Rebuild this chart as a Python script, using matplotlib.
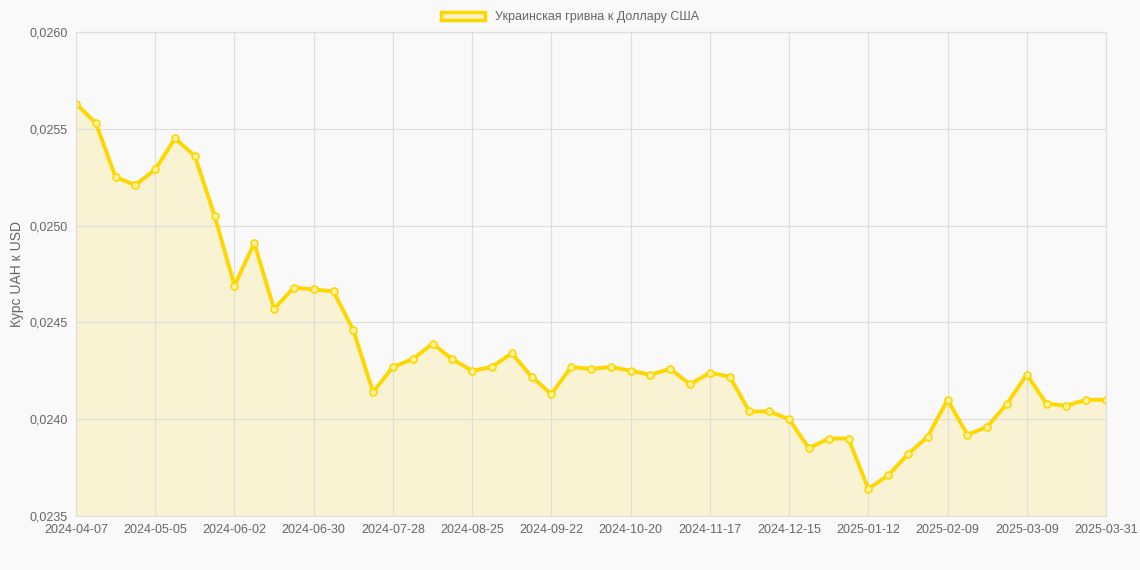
import matplotlib
matplotlib.use("Agg")
import matplotlib.pyplot as plt
import pandas as pd
from matplotlib.patches import Patch

dates = [d.strftime("%Y-%m-%d") for d in pd.date_range("2024-04-07", periods=52, freq="7D")] + ["2025-03-31"]
values = [0.02563,0.02553,0.02525,0.02521,0.02529,0.02545,0.02536,0.02505,0.02469,0.02491,
          0.02457,0.02468,0.02467,0.02466,0.02446,0.02414,0.02427,0.02431,0.02439,0.02431,
          0.02425,0.02427,0.02434,0.02422,0.02413,0.02427,0.02426,0.02427,0.02425,0.02423,
          0.02426,0.02418,0.02424,0.02422,0.02404,0.02404,0.02400,0.02385,0.02390,0.02390,
          0.02364,0.02371,0.02382,0.02391,0.02410,0.02392,0.02396,0.02408,0.02423,0.02408,
          0.02407,0.02410,0.02410]
series_label = "Украинская гривна к Доллару США"
y_label = "Курс UAH к USD"

plt.rcParams['font.family'] = ['Liberation Sans', 'DejaVu Sans']
fig = plt.figure(figsize=(11.4, 5.7), dpi=100, facecolor="#f9f9f9")
ax = fig.add_axes([76/1140, 1-516/570, 1030/1140, 484/570], facecolor="#f9f9f9")
x = list(range(len(values)))
line = "#FFD700"
ax.fill_between(x, values, 0.0235, color="#FFD700", alpha=0.15, lw=0)
ax.plot(x, values, color=line, lw=2.8, marker="o", ms=5, mfc="#fff3a0", mec=line, mew=1.2)
ax.set_xlim(0, len(values)-1)
ax.set_ylim(0.0235, 0.0260)
yt = [0.0235, 0.0240, 0.0245, 0.0250, 0.0255, 0.0260]
ax.set_yticks(yt)
ax.set_yticklabels([f"{v:.4f}".replace(".", ",") for v in yt])
ax.set_xticks(x[::4])
ax.set_xticklabels(dates[::4])
ax.grid(True, color="#dddddd", lw=0.8)
for s in ax.spines.values():
    s.set_color("#dddddd")
ax.tick_params(colors="#666666", labelsize=9, length=0, pad=6)
ax.set_ylabel(y_label, color="#666666", fontsize=10)
fig.legend(handles=[Patch(facecolor="#fbf3c8", edgecolor=line, lw=2.5, label=series_label)],
           loc="upper center", bbox_to_anchor=(0.5, 1.0), frameon=False, fontsize=9,
           labelcolor="#666666", handlelength=3.5)
fig.savefig("out.png", dpi=100, facecolor=fig.get_facecolor())
